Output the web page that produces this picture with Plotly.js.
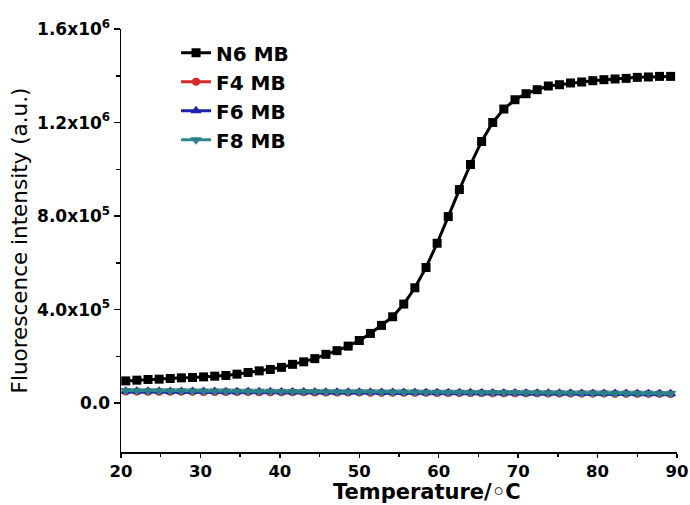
<!DOCTYPE html>
<html>
<head>
<meta charset="utf-8">
<script src="https://cdn.plot.ly/plotly-3.0.1.min.js"></script>
<style>html,body{margin:0;padding:0;background:#fff;}#chart{width:690px;height:505px;}</style>
</head>
<body>
<div id="chart"></div>
<script>
// Temperature (°C)
const temperature = [20.6, 22.0, 23.4, 24.8, 26.2, 27.6, 29.0, 30.4, 31.8, 33.2,
  34.6, 36.0, 37.4, 38.8, 40.2, 41.6, 43.0, 44.4, 45.8, 47.2,
  48.6, 50.0, 51.4, 52.8, 54.2, 55.6, 57.0, 58.4, 59.8, 61.2,
  62.6, 64.0, 65.4, 66.8, 68.2, 69.6, 71.0, 72.4, 73.8, 75.2,
  76.6, 78.0, 79.4, 80.8, 82.2, 83.6, 85.0, 86.4, 87.8, 89.2];

// Fluorescence intensity (a.u.)
const n6 = [95500, 98500, 101500, 102800, 105800, 108400, 110100, 112600, 115600, 118600,
  124200, 131500, 138300, 144300, 153300, 166200, 176900, 190600, 209000, 224800,
  244100, 268100, 298500, 332800, 369600, 424000, 493400, 580300, 683900, 797900,
  913500, 1020600, 1119100, 1200400, 1257800, 1297600, 1323300, 1340500, 1356300, 1361900,
  1369200, 1373400, 1379000, 1383300, 1386300, 1388900, 1393200, 1394900, 1397400, 1397400];

const f4 = [50000, 49800, 49500, 49300, 49000, 48800, 48600, 48400, 48100, 47900,
  47700, 47500, 47300, 47000, 46800, 46600, 46400, 46200, 46000, 45800,
  45600, 45400, 45200, 45000, 44800, 44600, 44400, 44200, 44000, 43800,
  43600, 43400, 43200, 43000, 42800, 42600, 42400, 42200, 42000, 41800,
  41600, 41400, 41200, 41000, 40800, 40600, 40400, 40200, 40000, 39800];

const f6 = [51500, 51300, 51000, 50800, 50600, 50300, 50100, 49900, 49600, 49400,
  49200, 48900, 48700, 48500, 48200, 48000, 47800, 47500, 47300, 47100,
  46800, 46600, 46400, 46100, 45900, 45700, 45400, 45200, 45000, 44700,
  44500, 44300, 44000, 43800, 43600, 43300, 43100, 42900, 42600, 42400,
  42200, 41900, 41700, 41500, 41200, 41000, 40800, 40500, 40300, 40100];

const f8 = [54000, 53800, 53500, 53300, 53000, 52800, 52500, 52300, 52000, 51800,
  51500, 51300, 51000, 50800, 50500, 50300, 50000, 49800, 49500, 49300,
  49000, 48800, 48500, 48300, 48000, 47800, 47500, 47300, 47000, 46800,
  46500, 46300, 46000, 45800, 45500, 45300, 45000, 44800, 44500, 44300,
  44000, 43800, 43500, 43300, 43000, 42800, 42500, 42300, 42000, 41800];

const yTickVals = [0, 400000, 800000, 1200000, 1600000];
const yTickText = ["0.0", "4.0x10<sup>5</sup>", "8.0x10<sup>5</sup>", "1.2x10<sup>6</sup>", "1.6x10<sup>6</sup>"];
const xTickVals = [20, 30, 40, 50, 60, 70, 80, 90];

const FONT = "DejaVu Sans, Liberation Sans, Arial, sans-serif";

const traces = [
  {x: temperature, y: n6, name: "N6 MB", mode: "lines+markers",
   line: {color: "#000000", width: 3}, marker: {symbol: "square", size: 9, color: "#000000"}},
  {x: temperature, y: f4, name: "F4 MB", mode: "lines+markers",
   line: {color: "#d42a2a", width: 3}, marker: {symbol: "circle", size: 8, color: "#d42a2a"}},
  {x: temperature, y: f6, name: "F6 MB", mode: "lines+markers",
   line: {color: "#1f22a6", width: 3}, marker: {symbol: "triangle-up", size: 10, color: "#1f22a6"}},
  {x: temperature, y: f8, name: "F8 MB", mode: "lines+markers",
   line: {color: "#2b8a88", width: 3}, marker: {symbol: "triangle-down", size: 10, color: "#2b7f8a"}}
];

const layout = {
  width: 690, height: 505,
  margin: {l: 121, r: 13, t: 29, b: 53, pad: 0},
  paper_bgcolor: "#ffffff", plot_bgcolor: "#ffffff",
  font: {family: FONT, color: "#000000"},
  showlegend: true,
  legend: {x: 0.099, y: 0.99, xanchor: "left", yanchor: "top",
    bgcolor: "rgba(0,0,0,0)", borderwidth: 0,
    font: {family: FONT, size: 20, color: "#000000", weight: "bold"}},
  xaxis: {
    range: [20, 90], showgrid: false, zeroline: false,
    showline: true, linecolor: "#000000", linewidth: 1.5,
    ticks: "outside", ticklen: 4, tickwidth: 1.5, tickcolor: "#000000",
    tickvals: xTickVals,
    tickfont: {family: FONT, size: 16.5, color: "#000000", weight: "bold"},
    minor: {dtick: 5, ticks: "outside", ticklen: 3, tickwidth: 1.5, tickcolor: "#000000", showgrid: false},
    title: {text: ""}
  },
  yaxis: {
    range: [-208600, 1600000], showgrid: false, zeroline: false,
    showline: true, linecolor: "#000000", linewidth: 1.5,
    ticks: "outside", ticklen: 6, tickwidth: 1.5, tickcolor: "#000000",
    tickvals: yTickVals, ticktext: yTickText,
    tickfont: {family: FONT, size: 17, color: "#000000", weight: "bold"},
    minor: {tickvals: [200000, 600000, 1000000, 1400000], ticks: "outside", ticklen: 4, tickwidth: 1.5, tickcolor: "#000000", showgrid: false},
    title: {text: "Fluorescence intensity (a.u.)", standoff: 3,
      font: {family: FONT, size: 21.5, color: "#000000"}}
  },
  annotations: [
    {text: "Temperature/◦C", xref: "paper", yref: "paper", x: 0.55, y: 0, yshift: -53,
     xanchor: "center", yanchor: "bottom", showarrow: false, borderpad: 0,
     font: {family: FONT, size: 21, color: "#000000", weight: "bold"}}
  ]
};

Plotly.newPlot("chart", traces, layout, {displayModeBar: false, staticPlot: true});
</script>
</body>
</html>
